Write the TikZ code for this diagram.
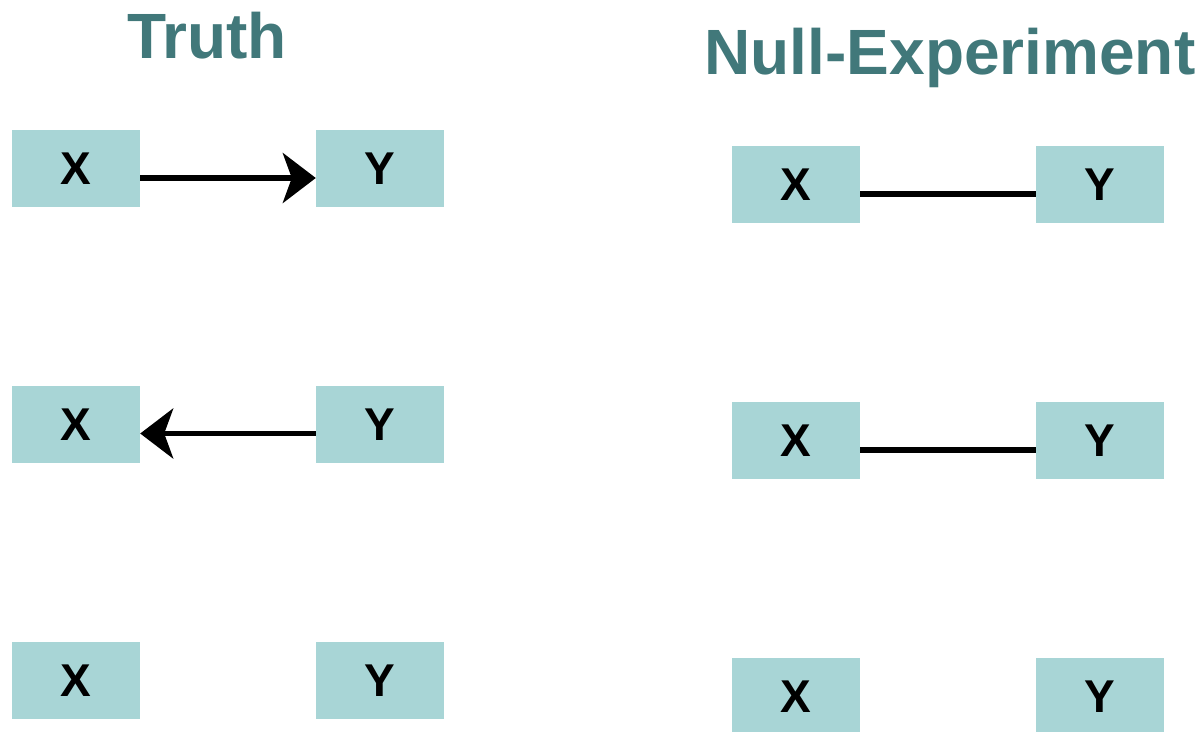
\documentclass[tikz,border=0pt]{standalone}
\usepackage{fontspec}
\setmainfont{Liberation Sans}
\usetikzlibrary{arrows.meta}
\definecolor{boxfill}{HTML}{A8D5D6}
\definecolor{titlecol}{HTML}{41787A}
\begin{document}
\begin{tikzpicture}[x=1pt,y=-1pt,
  var/.style={fill=boxfill,draw=none,minimum width=128pt,minimum height=77pt,
    inner sep=0pt,font=\fontsize{46}{46}\selectfont\bfseries},
  heading/.style={anchor=base,text=titlecol,inner sep=0pt,
    font=\fontsize{64}{64}\selectfont\bfseries},
  link/.style={line width=5.5pt},
  causal/.style={link,-{Stealth[length=33pt,width=50pt,inset=9pt]}}]
\clip (0,0) rectangle (1201,731);
% headings
\node[heading] (tl) at (207,58) {Truth};
\node[heading] (tr) at (950,74) {Null-Experiment};
% left column: true structures
\node[var] (x1) at (76,168.5) {X};
\node[var] (y1) at (380,168.5) {Y};
\node[var] (x2) at (76,424.5) {X};
\node[var] (y2) at (380,424.5) {Y};
\node[var] (x3) at (76,680.5) {X};
\node[var] (y3) at (380,680.5) {Y};
% right column: what the null experiment shows
\node[var] (u1) at (796,184.5) {X};
\node[var] (v1) at (1100,184.5) {Y};
\node[var] (u2) at (796,440.5) {X};
\node[var] (v2) at (1100,440.5) {Y};
\node[var] (u3) at (796,696.5) {X};
\node[var] (v3) at (1100,696.5) {Y};
% connectors, set a little below the box centres
\draw[causal] ([yshift=-9.5pt]x1.east) -- ([yshift=-9.5pt]y1.west);
\draw[causal] ([yshift=-9pt]y2.west) -- ([yshift=-9pt]x2.east);
\draw[link] ([yshift=-9.5pt]u1.east) -- ([yshift=-9.5pt]v1.west);
\draw[link] ([yshift=-9.5pt]u2.east) -- ([yshift=-9.5pt]v2.west);
\end{tikzpicture}
\end{document}
